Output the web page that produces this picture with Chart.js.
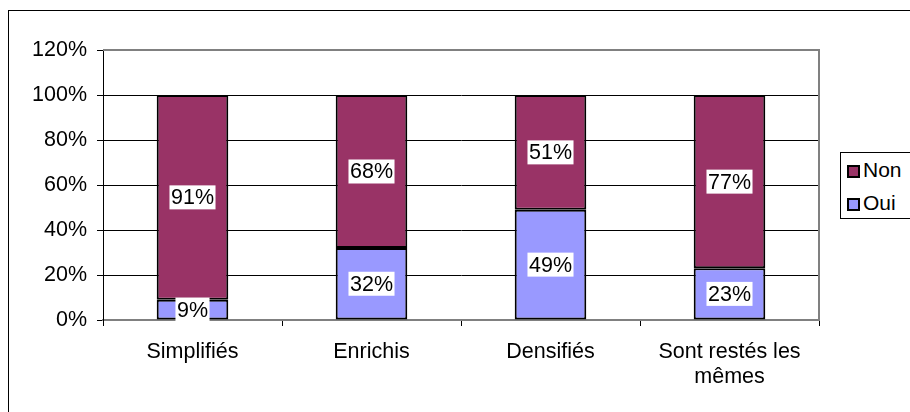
<!DOCTYPE html>
<html>
<head>
<meta charset="utf-8">
<script src="https://cdn.jsdelivr.net/npm/chart.js@4"></script>
<style>
  body { margin: 0; background: #fff; }
  #wrap { position: relative; width: 910px; height: 412px; overflow: hidden; }
  #frame { position: absolute; left: 8px; top: 10px; width: 1000px; height: 500px; border: 1px solid #000; }
  #legend { position: absolute; left: 840px; top: 152px; width: 90px; height: 65px; border: 1px solid #000; background: #fff;
            font-family: "Liberation Sans", Arial, sans-serif; font-size: 21px; }
  .item { position: absolute; left: 6px; height: 24px; line-height: 24px; }
  .sw { display: inline-block; width: 13px; height: 13px; border: 2px solid #000; box-sizing: border-box; margin-right: 3px; vertical-align: -1px; }
</style>
</head>
<body>
<div id="wrap">
  <div id="frame"></div>
  <canvas id="c" width="910" height="412"></canvas>
  <div id="legend"></div>
</div>
<script>
const categories = ["Simplifiés", "Enrichis", "Densifiés", ["Sont restés les", "mêmes"]];
const oui = [9, 32, 49, 23];
const non = [91, 68, 51, 77];
const yTicks = [0, 20, 40, 60, 80, 100, 120];

const font = { family: "'Liberation Sans', Arial, sans-serif", size: 21.5 };

// white boxed value labels in the middle of each segment
const valueLabels = {
  id: "valueLabels",
  afterDatasetsDraw(chart) {
    const ctx = chart.ctx;
    ctx.save();
    ctx.font = font.size + "px " + font.family;
    ctx.textAlign = "center";
    ctx.textBaseline = "middle";
    chart.data.datasets.forEach((ds, i) => {
      chart.getDatasetMeta(i).data.forEach((bar, j) => {
        const txt = ds.data[j] + "%";
        const y = (bar.y + bar.base) / 2;
        const w = ctx.measureText(txt).width + 3;
        ctx.fillStyle = "#fff";
        ctx.fillRect(bar.x - w / 2, y - 12, w, 24);
        ctx.fillStyle = "#000";
        ctx.fillText(txt, bar.x, y + 1);
      });
    });
    ctx.restore();
  }
};

// grey plot area border (top and right)
const plotBorder = {
  id: "plotBorder",
  beforeDatasetsDraw(chart) {
    const a = chart.chartArea, ctx = chart.ctx;
    ctx.save();
    ctx.strokeStyle = "#808080";
    ctx.lineWidth = 2;
    ctx.beginPath();
    ctx.moveTo(a.left, a.top);
    ctx.lineTo(a.right, a.top);
    ctx.lineTo(a.right, a.bottom);
    ctx.stroke();
    ctx.restore();
  }
};

const chart = new Chart(document.getElementById("c"), {
  type: "bar",
  data: {
    labels: categories,
    datasets: [
      { label: "Oui", data: oui, backgroundColor: "#9999FF", borderColor: "#000", borderWidth: 2, borderSkipped: false },
      { label: "Non", data: non, backgroundColor: "#993366", borderColor: "#000", borderWidth: 2, borderSkipped: false }
    ]
  },
  options: {
    responsive: false,
    animation: false,
    categoryPercentage: 1,
    barPercentage: 0.4,
    layout: { padding: { left: 0, top: 50, right: 91, bottom: 0 } },
    plugins: { legend: { display: false }, tooltip: { enabled: false } },
    scales: {
      x: {
        stacked: true,
        afterFit: (s) => { s.height = 92; },
        grid: { offset: true, drawOnChartArea: false, tickLength: 6, color: "#000" },
        border: { color: "#808080", width: 2 },
        ticks: { color: "#000", font: { ...font, lineHeight: 1.15 }, padding: 14, maxRotation: 0 }
      },
      y: {
        stacked: true,
        min: 0,
        max: 120,
        afterFit: (s) => { s.width = 103; },
        afterBuildTicks: (s) => { s.ticks = yTicks.map(v => ({ value: v })); },
        grid: { color: (c) => c.tick && c.tick.value === 120 ? "#808080" : "#000", tickLength: 6, tickColor: "#000" },
        border: { color: "#000", width: 1 },
        ticks: { color: "#000", font: font, padding: 10, callback: (v) => v + "%" }
      }
    }
  },
  plugins: [plotBorder, valueLabels]
});

// legend built from the datasets, Non first
const legend = document.getElementById("legend");
chart.data.datasets.slice().reverse().forEach((ds, i) => {
  const d = document.createElement("div");
  d.className = "item";
  d.style.top = (5 + i * 33) + "px";
  d.innerHTML = '<span class="sw" style="background:' + ds.backgroundColor + '"></span>' + ds.label;
  legend.appendChild(d);
});
</script>
</body>
</html>
